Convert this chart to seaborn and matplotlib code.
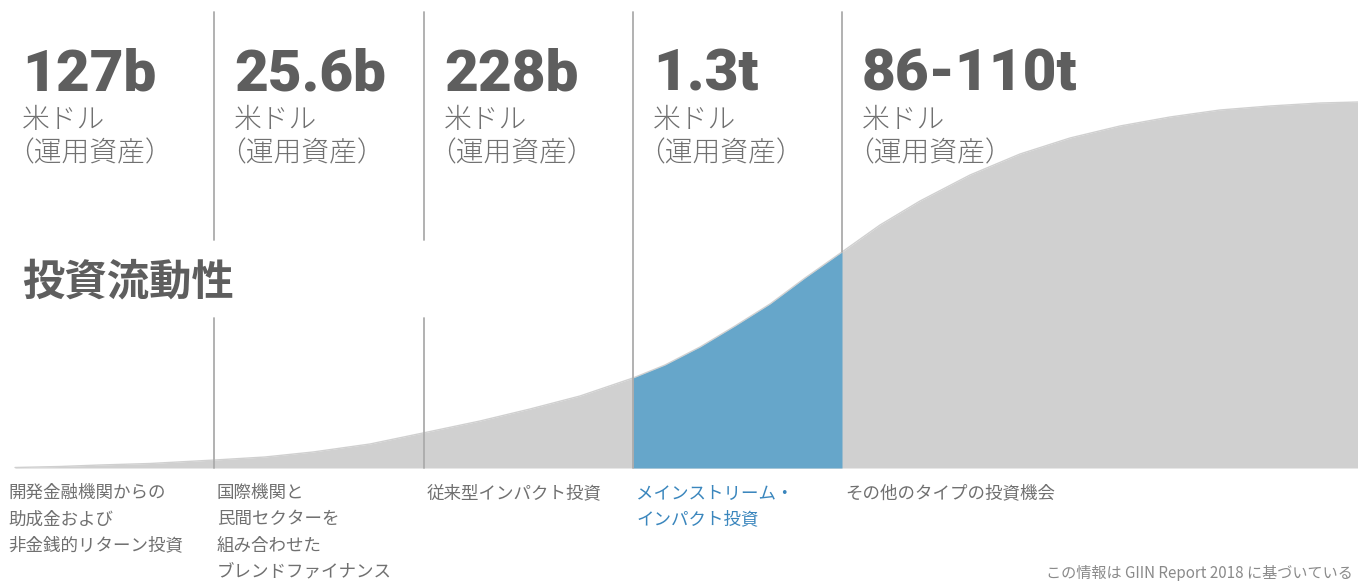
import matplotlib
matplotlib.use("Agg")
import matplotlib.pyplot as plt
import seaborn as sns
import numpy as np

# ---- data ----
# investment liquidity curve (relative height above baseline)
curve_x = [15, 60, 100, 150, 215, 265, 313, 370, 423, 480, 530, 580, 633, 665, 700,
           735, 770, 805, 842, 880, 920, 970, 1020, 1070, 1120, 1170, 1220, 1270, 1320, 1358]
curve_h = [0.5, 1.5, 3, 4.5, 8, 11, 16, 24, 35, 47, 59, 72, 90, 103, 121,
           142, 164, 190, 216, 243, 267, 293, 314, 330, 342, 351, 358, 362, 365, 366]

# category boundaries along the x axis
boundaries = [0, 214, 424, 633, 842]
amounts = ["127b", "25.6b", "228b", "1.3t", "86-110t"]
unit_line1 = "米ドル"
unit_line2 = "（運用資産）"
categories = [
    "開発金融機関からの\n助成金および\n非金銭的リターン投資",
    "国際機関と\n民間セクターを\n組み合わせた\nブレンドファイナンス",
    "従来型インパクト投資",
    "メインストリーム・\nインパクト投資",
    "その他のタイプの投資機会",
]
highlight_index = 3
y_title = "投資流動性"
footnote = "この情報は GIIN Report 2018 に基づいている"

# ---- style ----
sns.set_theme(style="white")
JP = ["Noto Sans CJK JP", "DejaVu Sans"]
plt.rcParams["font.family"] = JP

GRAY_FILL = "#d0d0d0"
BLUE_FILL = "#66a6ca"
LINE_COL = "#ababab"
NUM_COL = "#5e5e5e"
TXT_COL = "#707070"
BLUE_TXT = "#3a86bd"

W, H = 1358, 581
BASE = 468  # baseline pixel row

fig = plt.figure(figsize=(W / 100, H / 100), dpi=100)
ax = fig.add_axes([0, 0, 1, 1])
ax.set_xlim(0, W)
ax.set_ylim(BASE - H, BASE)
ax.axis("off")

cx = np.array(curve_x, dtype=float)
ch = np.array(curve_h, dtype=float)

# gray area
sns.lineplot(x=cx, y=ch, color=GRAY_FILL, lw=1, ax=ax, zorder=2)
ax.fill_between(cx, 0, ch, color=GRAY_FILL, lw=0, zorder=2)

# highlighted (blue) segment
lo, hi = boundaries[highlight_index], boundaries[highlight_index + 1]
m = (cx >= lo) & (cx <= hi)
ax.fill_between(cx[m], 0, ch[m], color=BLUE_FILL, lw=0, zorder=3)

# separators
top = BASE - 12
gap_top, gap_bot = BASE - 240, BASE - 318
for i, b in enumerate(boundaries[1:], start=1):
    if i in (1, 2):
        ax.plot([b, b], [gap_top, top], color=LINE_COL, lw=1.3, zorder=4)
        ax.plot([b, b], [0, gap_bot], color=LINE_COL, lw=1.3, zorder=4)
    elif i == 3:
        ax.plot([b, b], [0, top], color=LINE_COL, lw=1.3, zorder=4)
    else:
        hb = ch[np.argmin(np.abs(cx - b))]
        ax.plot([b, b], [hb, top], color=LINE_COL, lw=1.3, zorder=4)

# header texts
for i, (b, amt) in enumerate(zip(boundaries, amounts)):
    x0 = b + 20 if i > 0 else 22
    ax.text(x0, BASE - 90.5, amt, family=["Roboto", "DejaVu Sans"], fontweight="black",
            fontsize=42, color=NUM_COL, ha="left", va="baseline", zorder=5)
    ax.text(x0, BASE - 120, unit_line1, fontsize=20, color=TXT_COL, fontweight="light",
            ha="left", va="center", zorder=5)
    ax.text(x0 - 16, BASE - 153, unit_line2, fontsize=20, color=TXT_COL, fontweight="light",
            ha="left", va="center", zorder=5)

# y-title
ax.text(22, BASE - 283, y_title, fontsize=30.5, fontweight="bold", color=NUM_COL,
        ha="left", va="center", zorder=5)

# category labels
for i, (b, lab) in enumerate(zip(boundaries, categories)):
    x0 = b + 3 if i > 0 else 8
    col = BLUE_TXT if i == highlight_index else TXT_COL
    for j, line in enumerate(lab.split("\n")):
        ax.text(x0, BASE - (493 + 26.3 * j), line, fontsize=12.6, color=col,
                ha="left", va="center", zorder=5)

# footnote
ax.text(1046, BASE - 574, footnote, fontsize=10.9, color="#8a8a8a",
        ha="left", va="center", zorder=5)

fig.savefig("out.png", dpi=100)
